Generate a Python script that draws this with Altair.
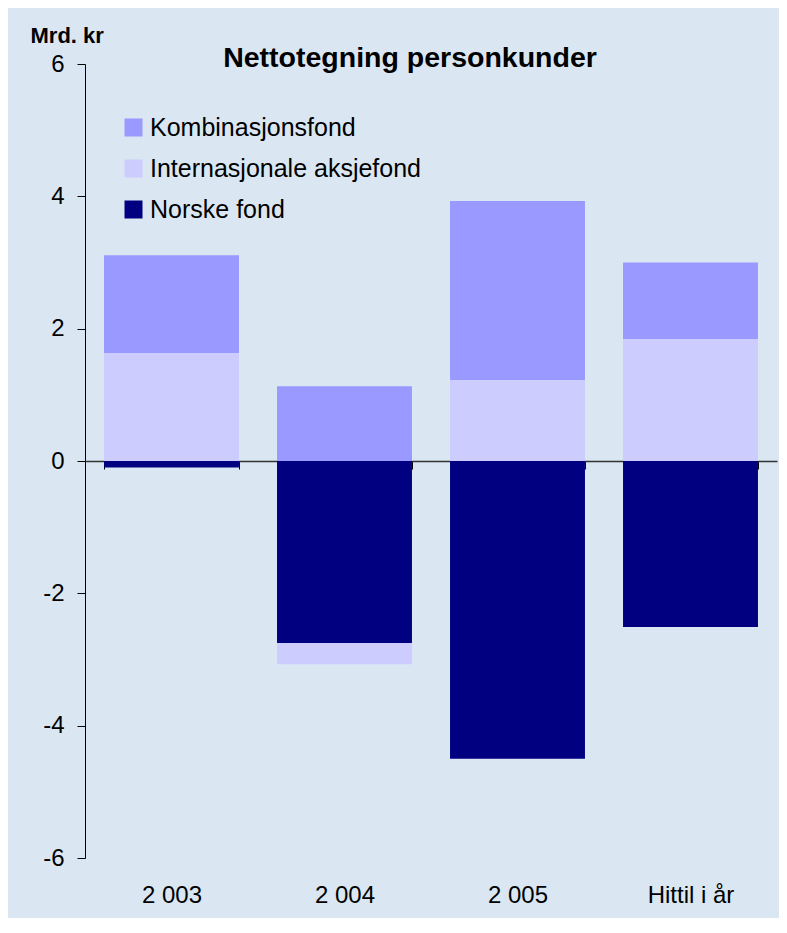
import altair as alt
import pandas as pd

categories = ["2 003", "2 004", "2 005", "Hittil i år"]
series = ["Kombinasjonsfond", "Internasjonale aksjefond", "Norske fond"]
kombinasjonsfond = [1.48, 1.13, 2.71, 1.16]
internasjonale = [1.63, -0.32, 1.22, 1.84]
norske = [-0.10, -2.75, -4.50, -2.51]
colors = ["#9999FF", "#CCCCFF", "#000080"]
stack_order = {"Norske fond": 0, "Internasjonale aksjefond": 1, "Kombinasjonsfond": 2}
y_ticks = [-6, -4, -2, 0, 2, 4, 6]

rows = []
for name, vals in zip(series, [kombinasjonsfond, internasjonale, norske]):
    for c, v in zip(categories, vals):
        rows.append({"kategori": c, "serie": name, "verdi": v, "rekkefolge": stack_order[name]})
df = pd.DataFrame(rows)

FONT = "Liberation Sans"
W, H = 692, 794

chart = alt.Chart(df).mark_bar().encode(
    x=alt.X("kategori:N", sort=categories,
            scale=alt.Scale(paddingInner=0.22, paddingOuter=0.11),
            axis=alt.Axis(title=None, orient="bottom", offset=-397, domain=True,
                          domainColor="#333333", domainWidth=1.5,
                          ticks=True, tickBand="extent", tickSize=8, tickColor="#000000",
                          labelAngle=0, labelFont=FONT, labelFontSize=24, labelColor="#000000",
                          labelPadding=414, labelBaseline="top")),
    y=alt.Y("sum(verdi):Q", stack="zero",
            scale=alt.Scale(domain=[-6, 6], nice=False, zero=False),
            axis=alt.Axis(title="Mrd. kr", titleAngle=0, titleX=-55, titleY=-22,
                          titleAlign="left", titleBaseline="alphabetic",
                          titleFont=FONT, titleFontSize=22, titleFontWeight="bold",
                          titleColor="#000000",
                          values=y_ticks, labelExpr="'' + datum.value",
                          grid=False, domainColor="#000000", domainWidth=1,
                          tickColor="#000000", tickSize=8,
                          labelFont=FONT, labelFontSize=24, labelColor="#000000",
                          labelPadding=13)),
    color=alt.Color("serie:N", scale=alt.Scale(domain=series, range=colors),
                    legend=alt.Legend(title=None, orient="none", legendX=36, legendY=51,
                                      symbolType="square", symbolSize=324,
                                      symbolStrokeWidth=0, symbolOpacity=1,
                                      labelFont=FONT, labelFontSize=25, labelColor="#000000",
                                      labelOffset=4, rowPadding=15, padding=0,
                                      labelLimit=400)),
    order=alt.Order("rekkefolge:Q", sort="ascending"),
).properties(
    width=W, height=H,
    title=alt.TitleParams("Nettotegning personkunder", font=FONT, fontSize=28.5,
                          fontWeight="bold", color="#000000", anchor="middle",
                          frame="group", dx=-21, dy=68, offset=-3, baseline="alphabetic"),
    padding={"left": 77, "top": 56, "right": 2, "bottom": 60},
    autosize="none",
    background="#dae7f3",
).configure_view(stroke=None)

chart.save("out.html", embed_options={"renderer": "svg", "actions": False})
